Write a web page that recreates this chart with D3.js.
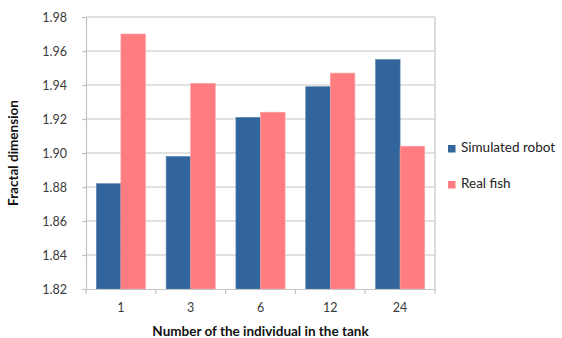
<!DOCTYPE html>
<html>
<head>
<meta charset="utf-8">
<script src="https://cdn.jsdelivr.net/npm/d3@7"></script>
<style>
  html, body { margin: 0; padding: 0; background: #fff; }
  svg { display: block; font-family: Lato, "Open Sans", sans-serif; }
</style>
</head>
<body>
<svg id="chart" width="562" height="338"></svg>
<script>
// Group sizes along the x axis
const categories = ["1", "3", "6", "12", "24"];
// Fractal dimension per group
const simulatedRobot = [1.882, 1.898, 1.921, 1.939, 1.955];
const realFish = [1.970, 1.941, 1.924, 1.947, 1.904];
const seriesNames = ["Simulated robot", "Real fish"];
const yTicks = [1.82, 1.84, 1.86, 1.88, 1.90, 1.92, 1.94, 1.96, 1.98];

const colors = ["#31659c", "#ff7c80"];
const series = [simulatedRobot, realFish];

const svg = d3.select("#chart");
const plot = { left: 86, right: 435, top: 17, bottom: 289 };

const x = d3.scaleBand().domain(categories).range([plot.left, plot.right]).paddingInner(0).paddingOuter(0);
const inner = d3.scaleBand().domain(d3.range(series.length)).range([0, x.bandwidth()]).paddingInner(0).paddingOuter(0.42);
const y = d3.scaleLinear().domain([1.82, 1.98]).range([plot.bottom, plot.top]);

// Horizontal gridlines
svg.append("g").selectAll("line").data(yTicks.slice(1)).join("line")
  .attr("x1", plot.left).attr("x2", plot.right)
  .attr("y1", d => y(d)).attr("y2", d => y(d))
  .attr("stroke", "#c4c4c4").attr("stroke-width", 1.2);

// Right border of the plot area
svg.append("line")
  .attr("x1", plot.right).attr("x2", plot.right)
  .attr("y1", plot.top).attr("y2", plot.bottom)
  .attr("stroke", "#c4c4c4").attr("stroke-width", 1.2);

// Bars
series.forEach((vals, si) => {
  svg.append("g").selectAll("rect").data(vals).join("rect")
    .attr("x", (d, i) => x(categories[i]) + inner(si))
    .attr("width", inner.bandwidth())
    .attr("y", d => y(d))
    .attr("height", d => y(1.82) - y(d))
    .attr("fill", colors[si])
    .attr("stroke", si === 0 ? "#5b86b5" : "#ffa0a3")
    .attr("stroke-width", 0.6);
});

// Y axis
const yAxis = svg.append("g").attr("transform", `translate(${plot.left},0)`)
  .call(d3.axisLeft(y).tickValues(yTicks).tickFormat(d3.format(".2f")).tickSize(4).tickPadding(15));
yAxis.select(".domain").attr("stroke", "#c4c4c4").attr("stroke-width", 1.2);
yAxis.selectAll(".tick line").attr("stroke", "#c4c4c4").attr("stroke-width", 1.2);
yAxis.selectAll("text").attr("font-size", 12.5).attr("fill", "#3a3a3a").attr("font-family", "Lato, sans-serif");

// X axis with ticks at category boundaries
const xAxis = svg.append("g").attr("transform", `translate(0,${plot.bottom})`)
  .call(d3.axisBottom(x).tickSize(0).tickPadding(14));
xAxis.select(".domain").attr("stroke", "#c4c4c4").attr("stroke-width", 1.2);
xAxis.selectAll("text").attr("font-size", 12.5).attr("fill", "#3a3a3a").attr("font-family", "Lato, sans-serif");
const bounds = categories.map(c => x(c)).concat([plot.right]);
svg.append("g").selectAll("line").data(bounds).join("line")
  .attr("x1", d => d).attr("x2", d => d)
  .attr("y1", plot.bottom).attr("y2", plot.bottom + 5)
  .attr("stroke", "#c4c4c4").attr("stroke-width", 1.2);

// Axis titles
svg.append("text")
  .attr("x", (plot.left + plot.right) / 2).attr("y", 333)
  .attr("text-anchor", "middle").attr("dominant-baseline", "middle")
  .attr("font-size", 13.5).attr("font-weight", "bold").attr("fill", "#111")
  .text("Number of the individual in the tank");
svg.append("text")
  .attr("transform", `translate(15,${(plot.top + plot.bottom) / 2}) rotate(-90)`)
  .attr("text-anchor", "middle").attr("dominant-baseline", "middle")
  .attr("font-size", 13.5).attr("font-weight", "bold").attr("fill", "#111")
  .text("Fractal dimension");

// Legend
const legend = svg.append("g").attr("transform", "translate(448,149)");
seriesNames.forEach((name, i) => {
  const g = legend.append("g").attr("transform", `translate(0,${i * 36})`);
  g.append("rect").attr("x", 0).attr("y", -4).attr("width", 7.5).attr("height", 7.5).attr("fill", colors[i]);
  g.append("text").attr("x", 13).attr("y", 0).attr("dominant-baseline", "middle")
    .attr("font-size", 13.5).attr("fill", "#222").text(name);
});
</script>
</body>
</html>
